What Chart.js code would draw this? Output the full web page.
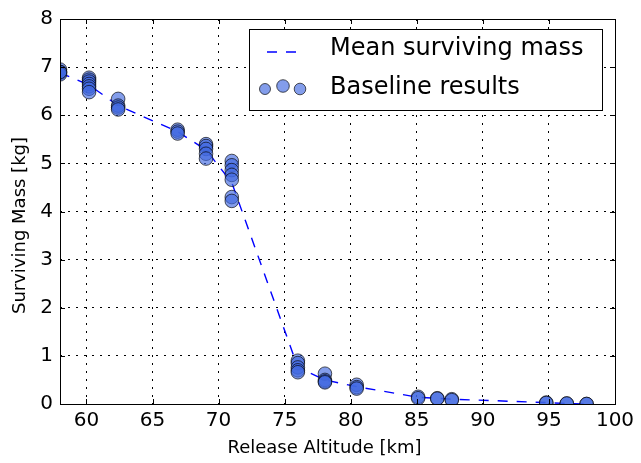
<!DOCTYPE html>
<html>
<head>
<meta charset="utf-8">
<script src="https://cdn.jsdelivr.net/npm/chart.js@4"></script>
<style>
  body { margin: 0; background: #fff; }
  #wrap { width: 641px; height: 463px; }
</style>
</head>
<body>
<div id="wrap"><canvas id="massChart" width="641" height="463"></canvas></div>
<script>
// release altitudes [km] of each batch of runs
const altitudes = [58, 60.2, 62.4, 66.9, 69.05, 71.0, 76.0, 78.05, 80.45, 85.1, 86.55, 87.65, 94.8, 96.35, 97.85];

// surviving mass of the individual runs [kg]
const baselineMass = [
    [6.95, 6.9, 6.88, 6.85, 6.9],
    [6.78, 6.74, 6.7, 6.65, 6.6, 6.55, 6.48],
    [6.34, 6.2, 6.16, 6.12],
    [5.7, 5.66, 5.62],
    [5.4, 5.36, 5.3, 5.2, 5.1],
    [5.05, 4.96, 4.86, 4.76, 4.66, 4.3, 4.22],
    [0.9, 0.85, 0.76, 0.7, 0.66],
    [0.63, 0.5, 0.47, 0.45],
    [0.4, 0.35, 0.32],
    [0.15, 0.12],
    [0.12, 0.11],
    [0.1, 0.08],
    [0.03, 0.02],
    [0.01, 0.01],
    [0.0, 0.0]
];

// mean surviving mass per altitude [kg]
const meanMass = [6.88, 6.63, 6.2, 5.66, 5.28, 4.6, 0.76, 0.5, 0.36, 0.14, 0.12, 0.1, 0.03, 0.01, 0.0];

const xTicks = [60, 65, 70, 75, 80, 85, 90, 95, 100];
const yTicks = [0, 1, 2, 3, 4, 5, 6, 7, 8];

const xTitle = 'Release Altitude [km]';
const yTitle = 'Surviving Mass [kg]';

const pointFill = 'rgba(65, 105, 225, 0.65)';
const pointEdge = 'rgba(0, 0, 0, 0.65)';
const meanDash = [10, 9];

const scatterData = [];
altitudes.forEach(function(alt, i) {
    baselineMass[i].forEach(function(m) {
        scatterData.push({ x: alt, y: m });
    });
});
const meanData = altitudes.map(function(alt, i) {
    return { x: alt, y: meanMass[i] };
});

// frame, inward ticks, axis titles and the boxed legend (matplotlib classic look)
const framePlugin = {
    id: 'frame',
    afterDatasetsDraw(chart) {
        const ctx = chart.ctx;
        const a = chart.chartArea;
        const x = chart.scales.x, y = chart.scales.y;
        ctx.save();
        ctx.strokeStyle = '#000';
        ctx.lineWidth = 1;
        ctx.setLineDash([]);
        ctx.beginPath();
        xTicks.forEach(function(v) {
            const px = Math.round(x.getPixelForValue(v)) + 0.5;
            ctx.moveTo(px, a.bottom); ctx.lineTo(px, a.bottom - 5);
            ctx.moveTo(px, a.top); ctx.lineTo(px, a.top + 5);
        });
        yTicks.forEach(function(v) {
            const py = Math.round(y.getPixelForValue(v)) + 0.5;
            ctx.moveTo(a.left, py); ctx.lineTo(a.left + 5, py);
            ctx.moveTo(a.right, py); ctx.lineTo(a.right - 5, py);
        });
        ctx.stroke();
        ctx.strokeRect(Math.round(a.left) + 0.5, Math.round(a.top) + 0.5,
            Math.round(a.right - a.left), Math.round(a.bottom - a.top));
        ctx.restore();
    },
    afterDraw(chart) {
        const ctx = chart.ctx;
        const a = chart.chartArea;
        ctx.save();
        // axis titles
        ctx.fillStyle = '#000';
        ctx.font = '18px "DejaVu Sans"';
        ctx.textAlign = 'center';
        ctx.textBaseline = 'middle';
        ctx.fillText(xTitle, (a.left + a.right) / 2 - 13, 448);
        ctx.save();
        ctx.translate(20, (a.top + a.bottom) / 2 + 14);
        ctx.rotate(-Math.PI / 2);
        ctx.fillText(yTitle, 0, 0);
        ctx.restore();

        // legend box
        ctx.textAlign = 'left';
        ctx.fillStyle = '#fff';
        ctx.fillRect(249, 29, 353, 81);
        ctx.strokeStyle = '#000';
        ctx.lineWidth = 1;
        ctx.strokeRect(249.5, 29.5, 353, 81);
        // dashed line sample
        ctx.strokeStyle = '#0000ff';
        ctx.lineWidth = 1.4;
        ctx.setLineDash(meanDash);
        ctx.beginPath();
        ctx.moveTo(267, 52); ctx.lineTo(298, 52);
        ctx.stroke();
        ctx.setLineDash([]);
        // scatter sample
        [[265, 89, 5.5], [283, 86, 6.3], [300, 89, 5.8]].forEach(function(c) {
            ctx.beginPath();
            ctx.arc(c[0], c[1], c[2], 0, Math.PI * 2);
            ctx.fillStyle = pointFill;
            ctx.fill();
            ctx.strokeStyle = pointEdge;
            ctx.lineWidth = 1;
            ctx.stroke();
        });
        // labels
        ctx.fillStyle = '#000';
        ctx.font = '24px "DejaVu Sans"';
        ctx.fillText('Mean surviving mass', 330, 49);
        ctx.fillText('Baseline results', 330, 88);
        ctx.restore();
    }
};

const gridStyle = {
    color: '#000',
    lineWidth: 1,
    drawTicks: false
};

new Chart(document.getElementById('massChart'), {
    type: 'scatter',
    data: {
        datasets: [{
            label: 'Baseline results',
            data: scatterData,
            backgroundColor: pointFill,
            borderColor: pointEdge,
            borderWidth: 1,
            pointRadius: 6.8,
            order: 1
        }, {
            label: 'Mean surviving mass',
            type: 'line',
            data: meanData,
            borderColor: '#0000ff',
            borderWidth: 1.4,
            borderDash: meanDash,
            pointRadius: 0,
            fill: false,
            tension: 0,
            order: 2
        }]
    },
    options: {
        responsive: false,
        animation: false,
        layout: {
            padding: { top: 16, right: 26, left: 0, bottom: 0 }
        },
        plugins: {
            legend: { display: false },
            tooltip: { enabled: false }
        },
        scales: {
            x: {
                type: 'linear',
                min: 58,
                max: 100,
                afterBuildTicks: function(scale) {
                    scale.ticks = xTicks.map(function(v) { return { value: v }; });
                },
                afterFit: function(scale) { scale.height = 59; },
                grid: Object.assign({}, gridStyle),
                border: { display: false, dash: [2, 6] },
                ticks: {
                    color: '#000',
                    padding: 5,
                    maxRotation: 0,
                    font: { family: 'DejaVu Sans', size: 20 }
                }
            },
            y: {
                min: 0,
                max: 8,
                afterBuildTicks: function(scale) {
                    scale.ticks = yTicks.map(function(v) { return { value: v }; });
                },
                afterFit: function(scale) { scale.width = 60; },
                grid: Object.assign({}, gridStyle),
                border: { display: false, dash: [2, 6] },
                ticks: {
                    color: '#000',
                    padding: 7,
                    font: { family: 'DejaVu Sans', size: 20 }
                }
            }
        }
    },
    plugins: [framePlugin]
});
</script>
</body>
</html>
